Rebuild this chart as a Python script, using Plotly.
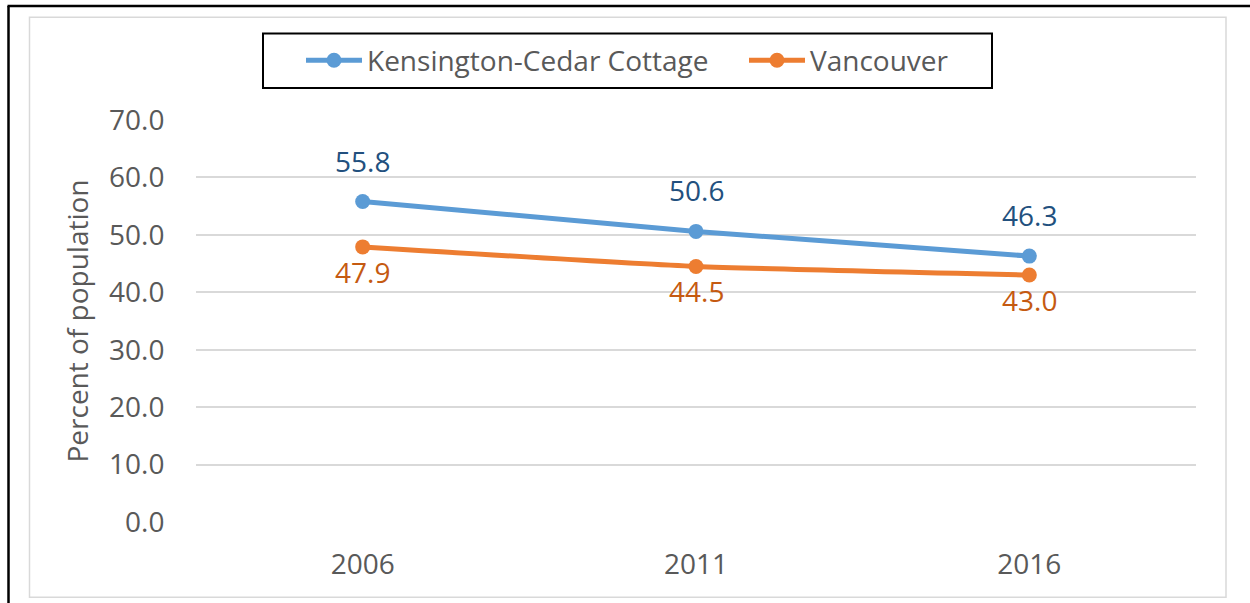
import plotly.graph_objects as go

# ---- data ----
years = ["2006", "2011", "2016"]
kcc_values = [55.8, 50.6, 46.3]
van_values = [47.9, 44.5, 43.0]
series_names = ["Kensington-Cedar Cottage", "Vancouver"]
y_title = "Percent of population"
y_ticks = [0, 10, 20, 30, 40, 50, 60, 70]

# ---- style ----
W, H = 1250, 603
ML, MR, MT, MB = 196, 54, 120, 81
PW, PH = W - ML - MR, H - MT - MB
FONT = "Open Sans"
FS = 28
BLUE, ORANGE = "#5B9BD5", "#ED7D31"
BLUE_LBL, ORANGE_LBL = "#22507E", "#C55A11"
GREY_TXT = "#595959"


def px(x):
    return (x - ML) / PW


def py(y):
    return (H - MB - y) / PH


fig = go.Figure()
fig.add_trace(go.Scatter(
    x=years, y=kcc_values, name=series_names[0], mode="lines+markers",
    line=dict(color=BLUE, width=5, shape="spline", smoothing=0.5),
    marker=dict(color=BLUE, size=15),
))
fig.add_trace(go.Scatter(
    x=years, y=van_values, name=series_names[1], mode="lines+markers",
    line=dict(color=ORANGE, width=5, shape="spline", smoothing=0.5),
    marker=dict(color=ORANGE, size=15),
))

annotations = []
for i, v in enumerate(kcc_values):
    annotations.append(dict(x=i, y=v, xref="x", yref="y", text=f"{v:.1f}",
                            showarrow=False, yshift=41,
                            font=dict(family=FONT, size=FS, color=BLUE_LBL)))
for i, v in enumerate(van_values):
    annotations.append(dict(x=i, y=v, xref="x", yref="y", text=f"{v:.1f}",
                            showarrow=False, yshift=-25,
                            font=dict(family=FONT, size=FS, color=ORANGE_LBL)))

shapes = [
    # inner light chart-area border
    dict(type="rect", xref="paper", yref="paper",
         x0=px(29.5), x1=px(1226), y0=py(597.3), y1=py(17.3),
         line=dict(color="#D9D9D9", width=1.5), fillcolor="rgba(0,0,0,0)", layer="below"),
    # outer black frame (left and top)
    dict(type="line", xref="paper", yref="paper",
         x0=px(8.5), x1=px(8.5), y0=py(604), y1=py(6),
         line=dict(color="black", width=2.5)),
    dict(type="line", xref="paper", yref="paper",
         x0=px(7.5), x1=px(1252), y0=py(6), y1=py(6),
         line=dict(color="black", width=2.5)),
    # legend frame
    dict(type="rect", xref="paper", yref="paper",
         x0=px(263), x1=px(992), y0=py(88), y1=py(33.5),
         line=dict(color="black", width=2), fillcolor="rgba(0,0,0,0)"),
]

fig.update_layout(
    width=W, height=H,
    margin=dict(l=ML, r=MR, t=MT, b=MB),
    paper_bgcolor="white", plot_bgcolor="white",
    font=dict(family=FONT, size=FS, color=GREY_TXT),
    showlegend=True,
    legend=dict(
        orientation="h", x=px(301), y=py(60.5), xanchor="left", yanchor="middle",
        borderwidth=0, bgcolor="rgba(0,0,0,0)",
        font=dict(family=FONT, size=FS, color=GREY_TXT),
        itemwidth=56, entrywidth=372,
    ),
    xaxis=dict(
        type="category", range=[-0.5, 2.5], showgrid=False, showline=False,
        zeroline=False, ticks="outside", ticklen=17, tickcolor="rgba(0,0,0,0)",
        tickfont=dict(family=FONT, size=FS, color=GREY_TXT),
    ),
    yaxis=dict(
        range=[0, 70], tickvals=y_ticks, tickformat=".1f",
        showgrid=True, gridcolor="#D9D9D9", gridwidth=1.5, zeroline=False,
        showline=False, ticks="outside", ticklen=25, tickcolor="rgba(0,0,0,0)",
        tickfont=dict(family=FONT, size=FS, color=GREY_TXT),
        title=dict(text=y_title, font=dict(family=FONT, size=FS, color=GREY_TXT),
                   standoff=12),
    ),
    annotations=annotations,
    shapes=shapes,
)

fig.write_html("out.html", config={"displayModeBar": False},
               post_script="document.body.style.margin='0';")
